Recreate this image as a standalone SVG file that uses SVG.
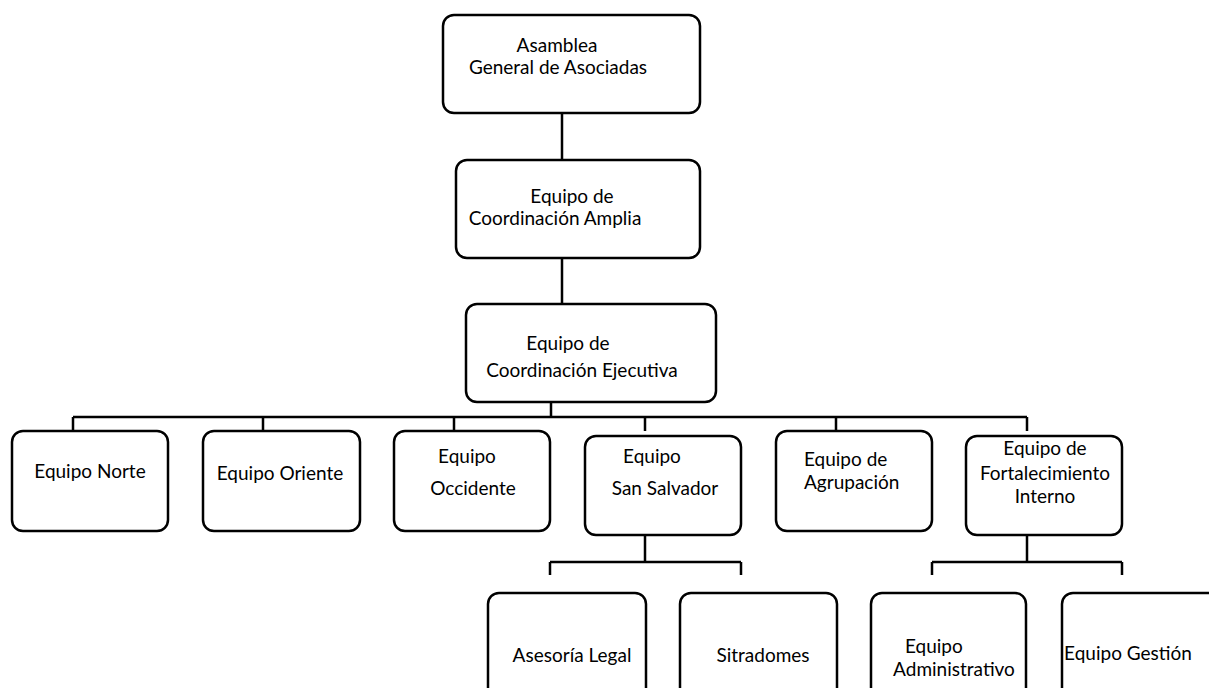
<svg xmlns="http://www.w3.org/2000/svg" width="1209" height="688" viewBox="0 0 1209 688">
<style>
.box{fill:#fff;stroke:#000;stroke-width:2.5}
.c{fill:none;stroke:#000;stroke-width:2.5}
text{font-family:Lato,"Open Sans","Liberation Sans",sans-serif;font-size:19px;fill:#000}
.m{text-anchor:middle}
</style>
<rect width="1209" height="688" fill="#fff"/>
<g id="connectors">
<path class="c" d="M562 113V160M562 258V304M551 402V417M73 417H1027M73 417V431M263 417V431M454 417V431M645 417V431M836 417V431M1027 417V431"/>
<path class="c" d="M645 535V562M550 562H741M550 562V575M741 562V575"/>
<path class="c" d="M1027 535V562M932 562H1122M932 562V575M1122 562V575"/>
</g>
<g id="asamblea"><rect class="box" x="443" y="15" width="257" height="98" rx="11"/>
<text class="m" x="557" y="52">Asamblea</text><text class="m" x="558" y="74">General de Asociadas</text></g>
<g id="coord-amplia"><rect class="box" x="456" y="160" width="244" height="98" rx="11"/>
<text class="m" x="572" y="203">Equipo de</text><text class="m" x="555" y="225">Coordinación Amplia</text></g>
<g id="coord-ejecutiva"><rect class="box" x="466" y="304" width="250" height="98" rx="11"/>
<text class="m" x="568" y="350">Equipo de</text><text class="m" x="582" y="377">Coordinación Ejecutiva</text></g>
<g id="norte"><rect class="box" x="12" y="431" width="156" height="100" rx="11"/>
<text class="m" x="90" y="478">Equipo Norte</text></g>
<g id="oriente"><rect class="box" x="203" y="431" width="157" height="100" rx="11"/>
<text class="m" x="280" y="480">Equipo Oriente</text></g>
<g id="occidente"><rect class="box" x="394" y="431" width="156" height="100" rx="11"/>
<text class="m" x="467" y="463">Equipo</text><text class="m" x="473" y="495">Occidente</text></g>
<g id="san-salvador"><rect class="box" x="585" y="436" width="156" height="99" rx="11"/>
<text class="m" x="652" y="463">Equipo</text><text class="m" x="665" y="495">San Salvador</text></g>
<g id="agrupacion"><rect class="box" x="776" y="431" width="156" height="100" rx="11"/>
<text x="804" y="466">Equipo de</text><text x="804" y="489">Agrupación</text></g>
<g id="fortalecimiento"><rect class="box" x="966" y="436" width="156" height="99" rx="11"/>
<text class="m" x="1045" y="455">Equipo de</text><text class="m" x="1045" y="480">Fortalecimiento</text><text class="m" x="1045" y="503">Interno</text></g>
<g id="asesoria"><rect class="box" x="488" y="593" width="158" height="110" rx="11"/>
<text class="m" x="572" y="662">Asesoría Legal</text></g>
<g id="sitradomes"><rect class="box" x="680" y="593" width="157" height="110" rx="11"/>
<text class="m" x="763" y="662">Sitradomes</text></g>
<g id="administrativo"><rect class="box" x="871" y="593" width="155" height="110" rx="11"/>
<text x="905" y="653">Equipo</text><text class="m" x="954" y="676">Administrativo</text></g>
<g id="gestion"><rect class="box" x="1062" y="593" width="170" height="110" rx="11"/>
<text class="m" x="1128" y="660">Equipo Gestión</text></g>
</svg>
